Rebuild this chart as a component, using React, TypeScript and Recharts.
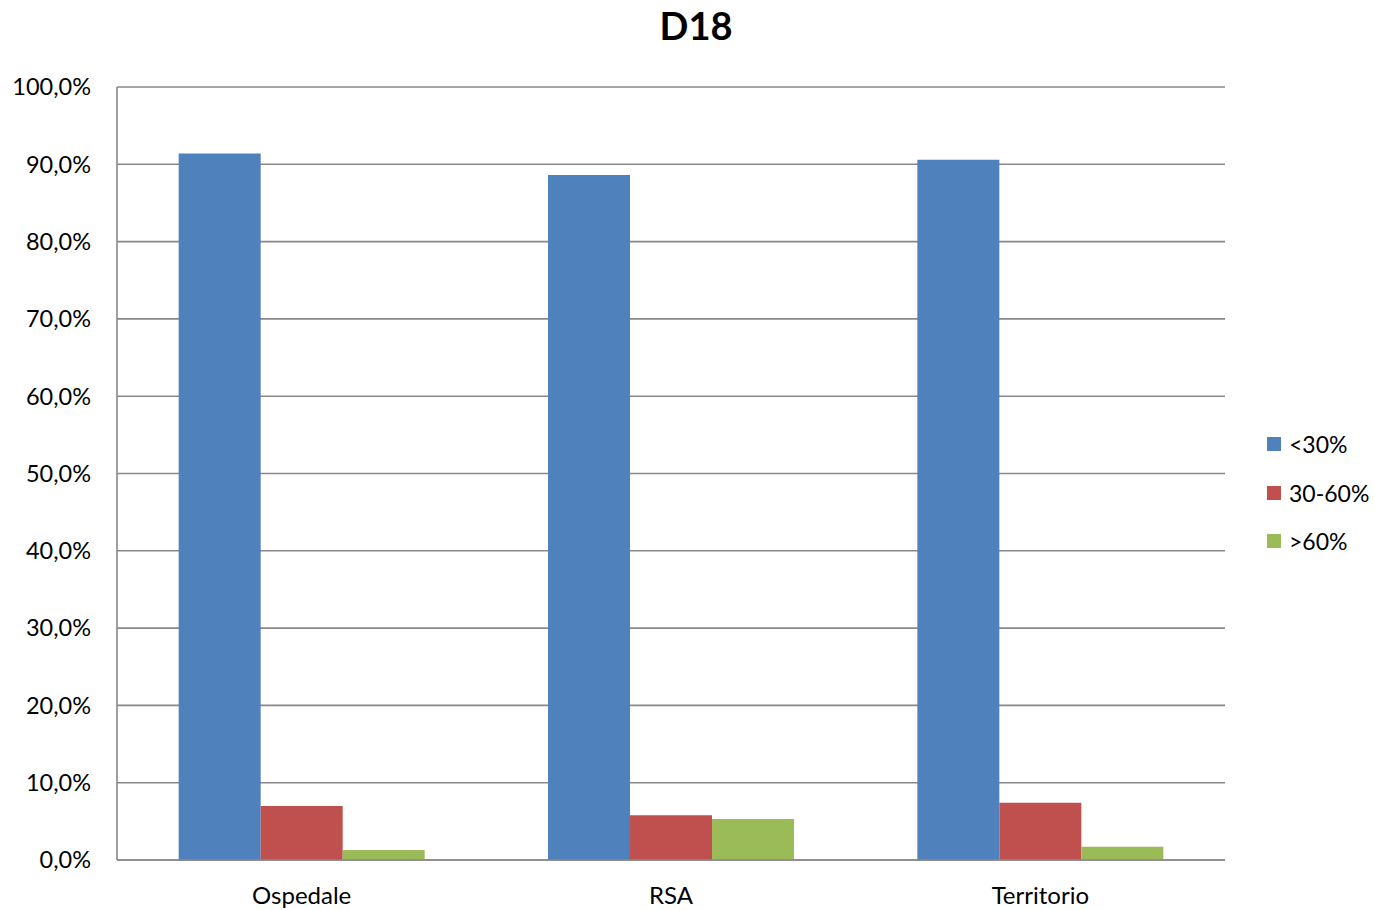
import { BarChart, Bar, XAxis, YAxis, CartesianGrid } from "recharts";

const CATEGORIES = ["Ospedale", "RSA", "Territorio"];
const UNDER_30 = [91.4, 88.6, 90.6];
const FROM_30_TO_60 = [7.0, 5.8, 7.4];
const OVER_60 = [1.3, 5.3, 1.7];
const Y_TICKS = [0, 10, 20, 30, 40, 50, 60, 70, 80, 90, 100];

const SERIES = [
  { key: "lt30", name: "<30%", color: "#4F81BD" },
  { key: "mid", name: "30-60%", color: "#C0504D" },
  { key: "gt60", name: ">60%", color: "#9BBB59" },
];

const data = CATEGORIES.map((name, i) => ({
  name,
  lt30: UNDER_30[i],
  mid: FROM_30_TO_60[i],
  gt60: OVER_60[i],
}));

const FONT = "Lato, 'Open Sans', sans-serif";
const GRID = "#888888";

const pct = (v: number) => v.toFixed(1).replace(".", ",") + "%";

// legend sits outside the svg so it doesn't eat into the plot area
function LegendBox() {
  return (
    <div
      style={{
        position: "absolute",
        left: 1267,
        top: 420,
        fontFamily: FONT,
        fontSize: 23,
        color: "#000",
      }}
    >
      {SERIES.map((s) => (
        <div key={s.key} style={{ display: "flex", alignItems: "center", height: 48.5 }}>
          <span style={{ width: 14, height: 14, background: s.color, marginRight: 8 }} />
          <span>{s.name}</span>
        </div>
      ))}
    </div>
  );
}

export default function App() {
  return (
    <div style={{ position: "absolute", left: 0, top: 0, width: 1375, height: 910, background: "#fff" }}>
      <div
        style={{
          position: "absolute",
          left: 0,
          width: 1392,
          top: 2,
          textAlign: "center",
          fontFamily: FONT,
          fontWeight: 700,
          fontSize: 38,
          color: "#000",
        }}
      >
        D18
      </div>
      <BarChart
        width={1375}
        height={910}
        data={data}
        margin={{ top: 87, right: 150, bottom: 20, left: 0 }}
        barCategoryGap="16.7%"
        barGap={0}
      >
        <CartesianGrid vertical={false} stroke={GRID} strokeWidth={1.6} />
        <XAxis
          dataKey="name"
          height={30}
          tickLine={false}
          tickSize={0}
          tickMargin={27}
          axisLine={{ stroke: GRID, strokeWidth: 1.6 }}
          tick={{ fontFamily: FONT, fontSize: 24, fill: "#000" }}
        />
        <YAxis
          width={117}
          domain={[0, 100]}
          ticks={Y_TICKS}
          tickFormatter={pct}
          tickLine={false}
          tickSize={0}
          tickMargin={26}
          axisLine={{ stroke: GRID, strokeWidth: 1.6 }}
          tick={{ fontFamily: FONT, fontSize: 23.5, fill: "#000" }}
        />
        {SERIES.map((s) => (
          <Bar key={s.key} dataKey={s.key} name={s.name} fill={s.color} isAnimationActive={false} />
        ))}
      </BarChart>
      <LegendBox />
    </div>
  );
}
